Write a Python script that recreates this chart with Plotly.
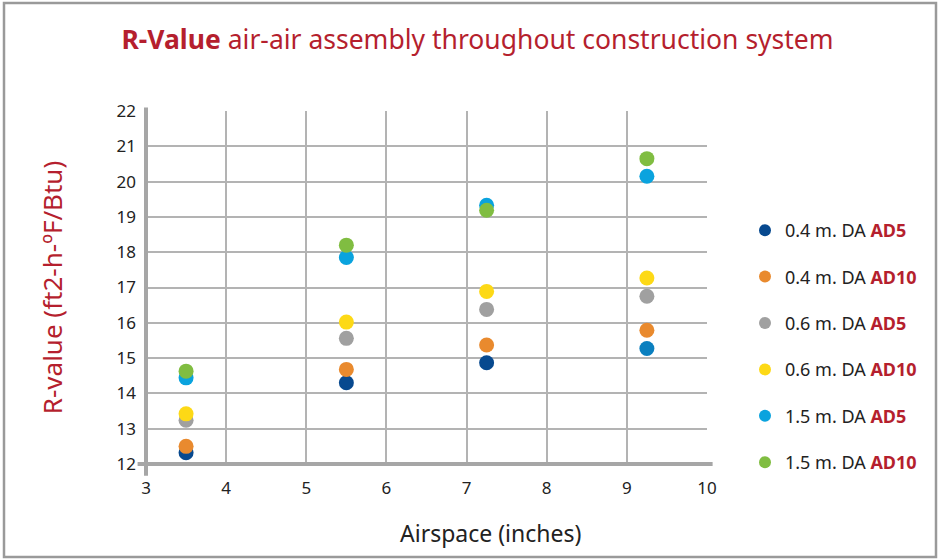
import plotly.graph_objects as go

airspace = [3.5, 5.5, 7.25, 9.25]
series_names = ["0.4 m. DA", "0.4 m. DA", "0.6 m. DA", "0.6 m. DA", "1.5 m. DA", "1.5 m. DA"]
series_tags = ["AD5", "AD10", "AD5", "AD10", "AD5", "AD10"]
r_04_ad5 = [12.32, 14.30, 14.87, 15.27]
r_04_ad10 = [12.50, 14.68, 15.37, 15.79]
r_06_ad5 = [13.24, 15.56, 16.38, 16.75]
r_06_ad10 = [13.42, 16.02, 16.89, 17.27]
r_15_ad5 = [14.44, 17.85, 19.33, 20.15]
r_15_ad10 = [14.63, 18.20, 19.19, 20.65]
series_values = [r_04_ad5, r_04_ad10, r_06_ad5, r_06_ad10, r_15_ad5, r_15_ad10]
colors = ["#07498f", "#e98a2e", "#a0a0a0", "#fdd916", "#0aa3de", "#80bd41"]
point_colors_04_ad5 = ["#07498f", "#07498f", "#07498f", "#0a7fbf"]

x_ticks = [3, 4, 5, 6, 7, 8, 9, 10]
y_ticks = list(range(12, 23))

RED = "#b51f2e"
FONT = "Noto Sans"

fig = go.Figure()
for i, (nm, tag, vals, col) in enumerate(zip(series_names, series_tags, series_values, colors)):
    mcol = point_colors_04_ad5 if i == 0 else col
    fig.add_trace(go.Scatter(
        x=airspace, y=vals, mode="markers",
        name=f"{nm} <b><span style='color:{RED}'>{tag}</span></b>",
        marker=dict(size=15, color=mcol, line=dict(width=0)),
        legendgroup=f"g{i}",
    ))

grid = "#b3b3b3"
axisline = "#a6a6a6"
L, R, T, B = 146, 233, 111, 96
PW, PH = 940 - L - R, 560 - T - B
fig.update_layout(
    width=940, height=560, autosize=False,
    margin=dict(l=L, r=R, t=T, b=B),
    paper_bgcolor="white", plot_bgcolor="white",
    font=dict(family=FONT, color="#222222", size=16),
    title=dict(
        text="<b>R-Value</b> air-air assembly throughout construction system",
        x=0.508, xanchor="center", y=1 - 40 / 560, yanchor="middle",
        font=dict(family=FONT, size=26.5, color=RED),
    ),
    xaxis=dict(
        range=[3, 10], tickvals=x_ticks, ticktext=[str(v) for v in x_ticks],
        showgrid=True, gridcolor=grid, gridwidth=1.5,
        showline=False, zeroline=False, ticks="", ticklabelstandoff=12,
        tickfont=dict(size=17, color="#222222"),
    ),
    yaxis=dict(
        range=[12, 22], tickvals=y_ticks, ticktext=[str(v) for v in y_ticks],
        showgrid=True, gridcolor=grid, gridwidth=1.5,
        showline=False, zeroline=False, ticks="", ticklabelstandoff=9,
        tickfont=dict(size=17, color="#222222"),
        title=dict(text="R-value (ft2-h-ºF/Btu)", font=dict(size=26, color=RED), standoff=46),
    ),
    legend=dict(
        x=(745 - L) / PW, xanchor="left", y=(464 - 212) / PH, yanchor="top",
        font=dict(size=18, color="#222222"), tracegroupgap=20,
        itemsizing="constant", bgcolor="rgba(0,0,0,0)",
    ),
    showlegend=True,
)

# x-axis title (offset to the right, as in the reference)
fig.add_annotation(text="Airspace (inches)", xref="paper", yref="paper",
                   x=(490 - L) / PW, y=(464 - 533) / PH, xanchor="center", yanchor="middle",
                   showarrow=False, font=dict(size=23, color="#222222"))

# axis lines (thick gray, slightly overshooting as in the reference)
fig.add_shape(type="line", xref="paper", yref="paper", x0=0, x1=0, y0=-0.033, y1=1.01,
              line=dict(color=axisline, width=4))
fig.add_shape(type="line", xref="paper", yref="paper", x0=-0.015, x1=1.01, y0=0, y1=0,
              line=dict(color=axisline, width=4))
# outer frame
fig.add_shape(type="rect", xref="paper", yref="paper",
              x0=(4 - L) / PW, x1=(936 - L) / PW,
              y0=(464 - 557) / PH, y1=(464 - 3) / PH,
              line=dict(color="#9a9a9a", width=2.5), fillcolor="rgba(0,0,0,0)", layer="below")

fig.write_html("out.html", config={"displayModeBar": False},
               post_script="document.body.style.margin='0';document.body.style.overflow='hidden';")
